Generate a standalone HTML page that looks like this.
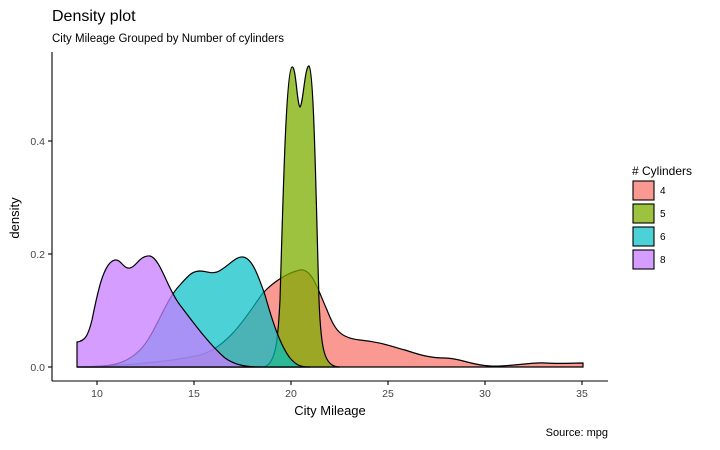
<!DOCTYPE html>
<html><head><style>body{margin:0;background:#fff}</style></head><body>
<svg width="720" height="445" xmlns="http://www.w3.org/2000/svg" font-family="Liberation Sans, sans-serif">
<rect width="720" height="445" fill="#fff"/>
<text x="52" y="21" font-size="16" fill="#000">Density plot</text>
<text x="52" y="42" font-size="11.5" fill="#000">City Mileage Grouped by Number of cylinders</text>
<g stroke="#000" stroke-width="1.2" stroke-opacity="1">
<path d="M77,367 C120,366 170,362 200,355 C230,347 250,310 263,293 C275,280 290,272 300,270 C312,268 318,290 327,310 C335,330 340,338 360,340 C380,342 390,346 405,350 C420,355 430,358 445,358 C460,358 470,365 490,366 C510,367 530,362 545,363 C560,364 570,363 583,363 L583,367 Z" fill="#F8766D" fill-opacity="0.75"/>
<path d="M262,367 C276,367 278,340 280,300 C283,200 286,70 292,67 C296,65 297,105 300,107 C303,105 305,65 309,66 C314,70 316,200 319,300 C321,350 324,367 340,367 Z" fill="#7CAE00" fill-opacity="0.75"/>
<path d="M77,367 C110,367 125,365 140,350 C155,335 165,300 180,285 C188,276 192,271 200,271 C207,271 210,274 217,272 C227,268 235,256 243,257 C252,258 258,275 265,295 C272,320 280,345 290,358 C296,365 300,367 310,367 Z" fill="#00BFC4" fill-opacity="0.7"/>
<path d="M77,367 L77,342 C85,341 88,336 92,320 C98,290 104,262 115,260 C121,259 123,269 130,268 C136,267 140,255 150,256 C160,258 168,290 180,305 C195,325 210,345 225,358 C235,365 245,367 262,367 Z" fill="#C77CFF" fill-opacity="0.75"/>
</g>
<g stroke="#000" stroke-width="1.1">
<line x1="52" y1="52" x2="52" y2="381"/><line x1="52" y1="381" x2="608" y2="381"/>
<line x1="48" y1="141" x2="52" y2="141"/><line x1="48" y1="254" x2="52" y2="254"/><line x1="48" y1="367" x2="52" y2="367"/>
<line x1="97" y1="381" x2="97" y2="385"/><line x1="194" y1="381" x2="194" y2="385"/><line x1="291" y1="381" x2="291" y2="385"/><line x1="388" y1="381" x2="388" y2="385"/><line x1="485" y1="381" x2="485" y2="385"/><line x1="582" y1="381" x2="582" y2="385"/>
</g>
<g font-size="10.5" fill="#444" text-anchor="end">
<text x="45" y="145">0.4</text><text x="45" y="258">0.2</text><text x="45" y="371">0.0</text>
</g>
<g font-size="10.5" fill="#444" text-anchor="middle">
<text x="97" y="397">10</text><text x="194" y="397">15</text><text x="291" y="397">20</text><text x="388" y="397">25</text><text x="485" y="397">30</text><text x="582" y="397">35</text>
</g>
<text x="330" y="415" font-size="13" text-anchor="middle">City Mileage</text>
<text transform="translate(19,218) rotate(-90)" font-size="13" text-anchor="middle">density</text>
<text x="608" y="436" font-size="11" text-anchor="end">Source: mpg</text>
<text x="632" y="175" font-size="12">#&#160;Cylinders</text>
<g stroke="#000" stroke-width="1.1">
<rect x="633" y="181" width="21" height="19" fill="#F8766D" fill-opacity="0.75"/>
<rect x="633" y="204" width="21" height="19" fill="#7CAE00" fill-opacity="0.75"/>
<rect x="633" y="227" width="21" height="19" fill="#00BFC4" fill-opacity="0.7"/>
<rect x="633" y="250" width="21" height="19" fill="#C77CFF" fill-opacity="0.75"/>
</g>
<g font-size="10" fill="#000">
<text x="660" y="194">4</text><text x="660" y="217">5</text><text x="660" y="240">6</text><text x="660" y="263">8</text>
</g>
</svg>
</body></html>
